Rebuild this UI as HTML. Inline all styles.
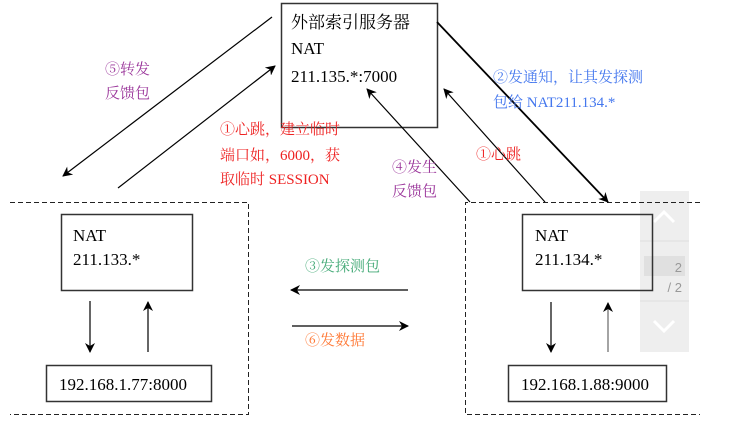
<!DOCTYPE html>
<html><head><meta charset="utf-8"><style>
html,body{margin:0;padding:0;background:#fff;}
svg text{font-family:"Liberation Serif","Noto Serif CJK SC",serif;font-size:17px;}
</style></head><body>
<svg width="731" height="435" viewBox="0 0 731 435" xmlns="http://www.w3.org/2000/svg">
<defs>
<marker id="a" markerWidth="10" markerHeight="10" refX="9" refY="5" orient="auto" markerUnits="userSpaceOnUse">
<path d="M0,0 L10,5 L0,10 L3,5 z" fill="#000"/></marker>
</defs>
<rect x="0" y="0" width="731" height="435" fill="#fff"/>
<rect x="640" y="191" width="49" height="161" fill="#eeeeee"/>
<line x1="640" y1="241" x2="689" y2="241" stroke="#ddd"/>
<line x1="640" y1="301" x2="689" y2="301" stroke="#ddd"/>
<rect x="644" y="256" width="41" height="20" fill="#e0e0e0"/>
<path d="M654,222 L664,212 L674,222" fill="none" stroke="#fff" stroke-width="3"/>
<path d="M654,321 L664,331 L674,321" fill="none" stroke="#fff" stroke-width="3"/>
<text x="682" y="272" fill="#999" text-anchor="end" style="font-size:13px;font-family:'Liberation Sans',sans-serif">2</text>
<text x="682" y="292" fill="#999" text-anchor="end" style="font-size:13px;font-family:'Liberation Sans',sans-serif">/ 2</text>

<g stroke="#333" fill="none">
<rect x="281.5" y="3.5" width="156" height="124" stroke-width="1.5"/>
<rect x="61.5" y="214.5" width="131" height="76" stroke-width="1.5"/>
<rect x="46.5" y="365.5" width="165" height="36" stroke-width="1.5"/>
<rect x="522.5" y="214.5" width="130" height="76" stroke-width="1.5"/>
<rect x="508.5" y="365.5" width="158" height="36" stroke-width="1.5"/>
</g>
<g stroke="#222" stroke-dasharray="5,3" fill="none">
<path d="M10,202.5 H248.5 V414.5 H10"/>
<path d="M700,202.5 H465.5 V414.5 H700"/>
</g>
<g stroke="#000" stroke-width="1.2" fill="none" marker-end="url(#a)">
<line x1="272" y1="17" x2="63" y2="176"/>
<line x1="118" y1="188" x2="275" y2="66"/>
<line x1="470" y1="202" x2="367" y2="89"/>
<line x1="545" y1="202" x2="444" y2="89"/>
<line x1="437" y1="22" x2="608" y2="202" stroke-width="1.8"/>
<line x1="90" y1="301" x2="90" y2="352"/>
<line x1="148" y1="352" x2="148" y2="302"/>
<line x1="551" y1="302" x2="551" y2="352"/>
<line x1="608" y1="352" x2="608" y2="303" stroke="#666"/>
<line x1="408" y1="290" x2="291" y2="290"/>
<line x1="292" y1="326" x2="408" y2="326"/>
</g>
<g fill="#000">
<text x="291" y="28">外部索引服务器</text>
<text x="291" y="54">NAT</text>
<text x="291" y="82">211.135.*:7000</text>
<text x="73" y="241">NAT</text>
<text x="73" y="265">211.133.*</text>
<text x="59" y="390">192.168.1.77:8000</text>
<text x="535" y="241">NAT</text>
<text x="535" y="265">211.134.*</text>
<text x="521" y="390">192.168.1.88:9000</text>
</g>
<g>
<text x="105" y="74" fill="#993399" style="font-size:15px">⑤转发</text>
<text x="105" y="98" fill="#993399" style="font-size:15px">反馈包</text>
<text x="220" y="134" fill="#ee2222" style="font-size:15px">①心跳，建立临时</text>
<text x="220" y="160" fill="#ee2222" style="font-size:15px">端口如，6000，获</text>
<text x="220" y="184" fill="#ee2222" style="font-size:15px">取临时 SESSION</text>
<text x="392" y="172" fill="#993399" style="font-size:15px">④发生</text>
<text x="392" y="196" fill="#993399" style="font-size:15px">反馈包</text>
<text x="476" y="159" fill="#ee2222" style="font-size:15px">①心跳</text>
<text x="493" y="82" fill="#4477ee" style="font-size:15px">②发通知，让其发探测</text>
<text x="493" y="107" fill="#4477ee" style="font-size:15px">包给 NAT211.134.*</text>
<text x="305" y="271" fill="#44aa77" style="font-size:15px">③发探测包</text>
<text x="305" y="345" fill="#ff7733" style="font-size:15px">⑥发数据</text>
</g>
</svg>
</body></html>
